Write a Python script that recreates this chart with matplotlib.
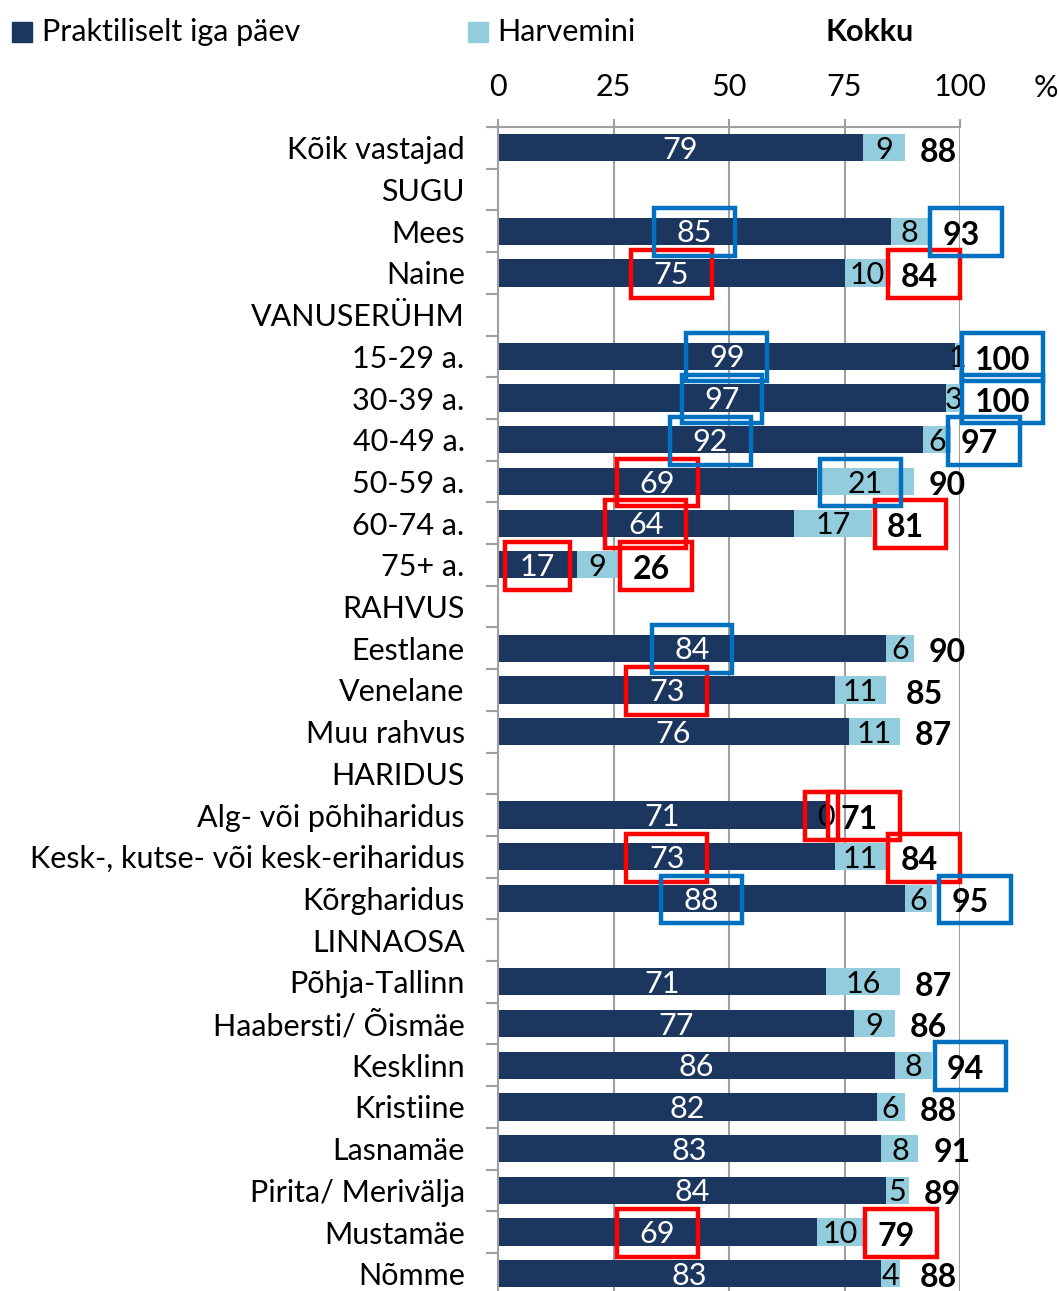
import numpy as np
import matplotlib.pyplot as plt
from matplotlib.patches import Rectangle

plt.rcParams['font.family'] = ['Lato', 'DejaVu Sans']

categories = ["Kõik vastajad", "SUGU", "Mees", "Naine", "VANUSERÜHM",
              "15-29 a.", "30-39 a.", "40-49 a.", "50-59 a.", "60-74 a.", "75+ a.",
              "RAHVUS", "Eestlane", "Venelane", "Muu rahvus",
              "HARIDUS", "Alg- või põhiharidus", "Kesk-, kutse- või kesk-eriharidus", "Kõrgharidus",
              "LINNAOSA", "Põhja-Tallinn", "Haabersti/ Õismäe", "Kesklinn", "Kristiine",
              "Lasnamäe", "Pirita/ Merivälja", "Mustamäe", "Nõmme"]
nan = np.nan
daily = np.array([79, nan, 85, 75, nan, 99, 97, 92, 69, 64, 17, nan, 84, 73, 76,
                  nan, 71, 73, 88, nan, 71, 77, 86, 82, 83, 84, 69, 83])
rarely = np.array([9, nan, 8, 10, nan, 1, 3, 6, 21, 17, 9, nan, 6, 11, 11,
                   nan, 0, 11, 6, nan, 16, 9, 8, 6, 8, 5, 10, 4])
total = np.array([88, nan, 93, 84, nan, 100, 100, 97, 90, 81, 26, nan, 90, 85, 87,
                  nan, 71, 84, 95, nan, 87, 86, 94, 88, 91, 89, 79, 88])
xticks = [0, 25, 50, 75, 100]

# highlighted labels: (category, which value)
red_boxes = [("Naine", "daily"), ("Naine", "total"), ("50-59 a.", "daily"),
             ("60-74 a.", "daily"), ("60-74 a.", "total"), ("75+ a.", "daily"),
             ("75+ a.", "total"), ("Venelane", "daily"),
             ("Alg- või põhiharidus", "rarely"), ("Alg- või põhiharidus", "total"),
             ("Kesk-, kutse- või kesk-eriharidus", "daily"),
             ("Kesk-, kutse- või kesk-eriharidus", "total"),
             ("Mustamäe", "daily"), ("Mustamäe", "total")]
blue_boxes = [("Mees", "daily"), ("Mees", "total"), ("15-29 a.", "daily"),
              ("15-29 a.", "total"), ("30-39 a.", "daily"), ("30-39 a.", "total"),
              ("40-49 a.", "daily"), ("40-49 a.", "total"), ("50-59 a.", "rarely"),
              ("Eestlane", "daily"), ("Kõrgharidus", "daily"), ("Kõrgharidus", "total"),
              ("Kesklinn", "total")]

dark = '#1b365f'
light = '#93cddd'
grid = '#a0a0a0'
fs = 22

W, H = 1059, 1291
fig = plt.figure(figsize=(W / 100, H / 100), dpi=100)
ax = fig.add_axes([498 / W, 1 - 1294.6 / H, 462 / W, 1167.6 / H])

y = np.arange(len(categories))
ax.barh(y, daily, height=0.65, color=dark)
ax.barh(y, rarely, left=daily, height=0.65, color=light)

for i in y:
    if np.isnan(daily[i]):
        continue
    ax.text(daily[i] / 2, i + 0.05, f"{daily[i]:.0f}", color='white', fontsize=fs,
            ha='center', va='center')
    ax.text(daily[i] + rarely[i] / 2, i + 0.05, f"{rarely[i]:.0f}", color='black',
            fontsize=fs, ha='center', va='center')
    ax.text(total[i] + 3.2, i + 0.1, f"{total[i]:.0f}", color='black', fontsize=fs + 1,
            fontweight='bold', ha='left', va='center', clip_on=False)


def box(cat, which, color):
    # frame drawn around one of the value labels
    i = categories.index(cat)
    if which == "daily":
        w = min(17.5, daily[i] - 3)
        x0 = daily[i] / 2 - w / 2
    elif which == "rarely":
        w = 7 if rarely[i] < 10 else 17.5
        x0 = daily[i] + rarely[i] / 2 - w / 2 - 1
    else:
        w = 17.5 if total[i] >= 100 else 15.5
        x0 = total[i] + 0.5
    ax.add_patch(Rectangle((x0, i - 0.55), w, 1.15, fill=False, edgecolor=color,
                           lw=3.2, clip_on=False, zorder=5))


for cat, which in red_boxes:
    box(cat, which, '#ff0000')
for cat, which in blue_boxes:
    box(cat, which, '#0070c0')

ax.set_xlim(0, 100)
ax.set_ylim(len(categories) - 0.5, -0.5)
ax.xaxis.tick_top()
ax.set_xticks(xticks)
ax.tick_params(axis='x', length=6, width=1.5, color=grid, pad=13, labelsize=fs)
ax.set_yticks(y)
ax.set_yticklabels(categories)
ax.tick_params(axis='y', which='major', length=0, pad=24, labelsize=fs)
ax.set_yticks(np.arange(-0.5, len(categories), 1), minor=True)
ax.tick_params(axis='y', which='minor', length=9, width=1.5, color=grid)
ax.xaxis.grid(True, color=grid, lw=1.5)
ax.set_axisbelow(True)
for s in ['right', 'bottom']:
    ax.spines[s].set_visible(False)
for s in ['left', 'top']:
    ax.spines[s].set_color(grid)
    ax.spines[s].set_linewidth(1.5)

# legend drawn by hand at the top
fig.add_artist(Rectangle((12 / W, 1 - 42 / H), 20 / W, 20 / H, color=dark,
                         transform=fig.transFigure))
fig.text(42 / W, 1 - 32 / H, "Praktiliselt iga päev", fontsize=fs, va='center')
fig.add_artist(Rectangle((468 / W, 1 - 42 / H), 20 / W, 20 / H, color=light,
                         transform=fig.transFigure))
fig.text(497 / W, 1 - 32 / H, "Harvemini", fontsize=fs, va='center')
fig.text(870 / W, 1 - 32 / H, "Kokku", fontsize=fs, fontweight='bold',
         ha='center', va='center')
fig.text(1046 / W, 1 - 88 / H, "%", fontsize=fs, ha='center', va='center')

fig.savefig('out.png', dpi=100)
